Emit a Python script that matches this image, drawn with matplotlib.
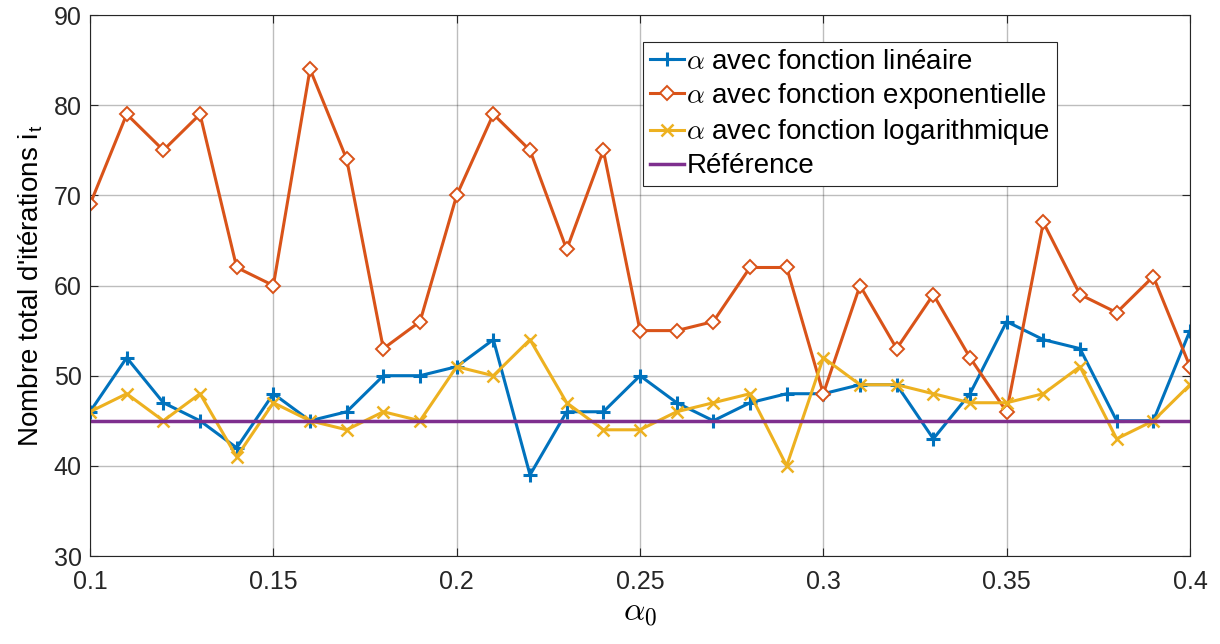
import numpy as np
import matplotlib
matplotlib.use('Agg')
import matplotlib.pyplot as plt

plt.rcParams['font.family'] = ['Liberation Sans', 'DejaVu Sans']
plt.rcParams['mathtext.fontset'] = 'cm'

alpha0 = np.round(np.arange(0.10, 0.4001, 0.01), 2)

lin = [46, 52, 47, 45, 42, 48, 45, 46, 50, 50, 51, 54, 39, 46, 46, 50,
       47, 45, 47, 48, 48, 49, 49, 43, 48, 56, 54, 53, 45, 45, 55]
expo = [69, 79, 75, 79, 62, 60, 84, 74, 53, 56, 70, 79, 75, 64, 75, 55,
        55, 56, 62, 62, 48, 60, 53, 59, 52, 46, 67, 59, 57, 61, 51]
loga = [46, 48, 45, 48, 41, 47, 45, 44, 46, 45, 51, 50, 54, 47, 44, 44,
        46, 47, 48, 40, 52, 49, 49, 48, 47, 47, 48, 51, 43, 45, 49]
ref_val = 45

labels = [r'$\alpha$ avec fonction linéaire',
          r'$\alpha$ avec fonction exponentielle',
          r'$\alpha$ avec fonction logarithmique',
          'Référence']

fig = plt.figure(figsize=(12.2, 6.44), dpi=100)
ax = fig.add_axes([0.0738, 0.1366, 0.9016, 0.8401])

ax.plot(alpha0, lin, '-+', color='#0072BD', lw=2.2, ms=10, mew=2.2, label=labels[0])
ax.plot(alpha0, expo, '-D', color='#D95319', lw=2.2, ms=7, mew=1.4,
        mfc='white', label=labels[1])
ax.plot(alpha0, loga, '-x', color='#EDB120', lw=2.2, ms=9, mew=1.8, label=labels[2])
ax.plot(alpha0, [ref_val] * len(alpha0), '-', color='#7E2F8E', lw=2.5, label=labels[3])

ax.set_xlim(0.1, 0.4)
ax.set_ylim(30, 90)
ax.set_xticks([0.1, 0.15, 0.2, 0.25, 0.3, 0.35, 0.4])
ax.set_xticklabels(['0.1', '0.15', '0.2', '0.25', '0.3', '0.35', '0.4'])
ax.set_yticks(range(30, 91, 10))
ax.grid(True, color='#262626', alpha=0.3, lw=1)
ax.set_axisbelow(True)
ax.tick_params(direction='in', labelsize=18, length=6, top=True, right=True,
               colors='#262626')
ax.tick_params(axis='x', pad=10)
ax.tick_params(axis='y', pad=6)
for s in ax.spines.values():
    s.set_color('#262626')

ax.set_xlabel(r'$\alpha_0$', fontsize=24, labelpad=2)
ax.set_ylabel("Nombre total d'itérations i$_\\mathregular{t}$", fontsize=20,
              labelpad=6)

leg = ax.legend(loc='upper left', bbox_to_anchor=(0.503, 0.95), fontsize=20,
                handlelength=1.2, handletextpad=0.1, borderpad=0.25,
                labelspacing=0.22, fancybox=False, framealpha=1,
                edgecolor='#262626', borderaxespad=0)
leg.get_frame().set_linewidth(0.8)

fig.savefig('out.png', dpi=100)
